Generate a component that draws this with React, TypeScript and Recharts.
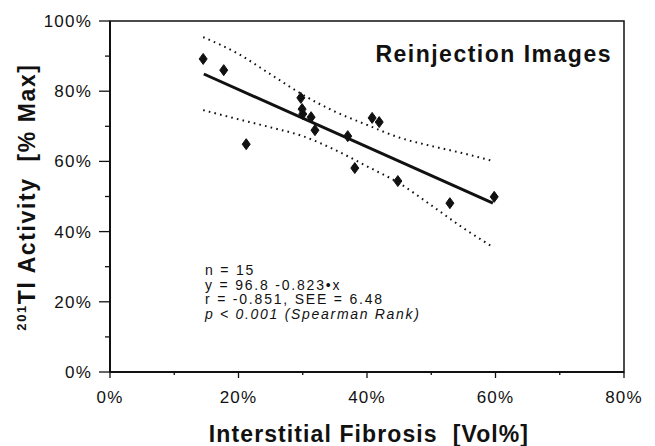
import React from 'react';
import { ComposedChart, Scatter, Line, XAxis, YAxis, ReferenceArea } from 'recharts';

// interstitial fibrosis [vol%] vs 201Tl activity [% max], one entry per patient
const fibrosis = [14.5, 17.7, 21.2, 29.7, 29.9, 30.0, 31.3, 31.9, 37.0, 40.8, 41.9, 38.1, 44.8, 52.9, 59.8];
const activity = [89.2, 86.0, 64.9, 78.1, 74.9, 73.5, 72.6, 68.9, 67.2, 72.4, 71.2, 58.1, 54.4, 48.1, 49.9];

// regression line ends
const fitX = [14.6, 59.6];
const fitY = [84.9, 48.1];

// dotted confidence bands
const bandX = [14.5, 20, 25, 30, 35, 40, 45, 50, 55, 59.6];
const upperY = [95.4, 90.6, 84.8, 79.0, 74.2, 70.4, 66.8, 64.4, 62.3, 60.1];
const lowerY = [74.6, 72.0, 69.7, 67.2, 63.3, 58.6, 53.8, 47.5, 41.0, 35.6];

const xTicks = [0, 10, 20, 30, 40, 50, 60, 70, 80];
const yTicks = [0, 10, 20, 30, 40, 50, 60, 70, 80, 90, 100];

const statLines = ['n = 15', 'y = 96.8 -0.823\u2022x', 'r = -0.851, SEE = 6.48'];

const FONT = '"Liberation Sans", Arial, Helvetica, sans-serif';
const INK = '#111';

const points = fibrosis.map((x, i) => ({ x, y: activity[i] }));
const fit = fitX.map((x, i) => ({ x, y: fitY[i] }));
const upper = bandX.map((x, i) => ({ x, y: upperY[i] }));
const lower = bandX.map((x, i) => ({ x, y: lowerY[i] }));

const Diamond = (props: any) => {
  const { cx, cy } = props;
  if (cx == null || cy == null) return <g />;
  return (
    <path
      d={`M${cx},${cy - 5.5} L${cx + 4},${cy} L${cx},${cy + 5.5} L${cx - 4},${cy} Z`}
      fill={INK}
      stroke={INK}
      strokeWidth={1}
      strokeLinejoin="round"
    />
  );
};

const YTick = (props: any) => {
  const { x, y, payload } = props;
  const major = payload.value % 20 === 0;
  return (
    <g>
      <line x1={x - (major ? 11 : 5)} x2={x} y1={y} y2={y} stroke={INK} strokeWidth={1.3} />
      {major && (
        <text x={x - 18} y={y + 6} textAnchor="end" fontSize={17} letterSpacing={1.2} fill={INK} fontFamily={FONT}>
          {payload.value}%
        </text>
      )}
    </g>
  );
};

const XTick = (props: any) => {
  const { x, y, payload } = props;
  const major = payload.value % 20 === 0;
  return (
    <g>
      <line x1={x} x2={x} y1={y} y2={y + (major ? 6 : 3)} stroke={INK} strokeWidth={1.3} />
      {major && (
        <text x={x} y={y + 31} textAnchor="middle" fontSize={17} letterSpacing={1.2} fill={INK} fontFamily={FONT}>
          {payload.value}%
        </text>
      )}
    </g>
  );
};

export default function App() {
  return (
    <div style={{ width: 655, height: 446, background: '#fff' }}>
      <style>{'body{margin:0}'}</style>
      <ComposedChart width={655} height={446} margin={{ top: 21, right: 31, bottom: 0, left: 0 }}>
        <XAxis
          type="number"
          dataKey="x"
          domain={[0, 80]}
          ticks={xTicks}
          height={74}
          tickSize={0}
          tickMargin={0}
          tickLine={false}
          tick={<XTick />}
          axisLine={{ stroke: INK, strokeWidth: 2 }}
          allowDataOverflow
        />
        <YAxis
          type="number"
          dataKey="y"
          domain={[0, 100]}
          ticks={yTicks}
          width={110}
          tickSize={0}
          tickMargin={0}
          tickLine={false}
          tick={<YTick />}
          axisLine={{ stroke: INK, strokeWidth: 2 }}
          allowDataOverflow
        />
        <ReferenceArea x1={0} x2={80} y1={0} y2={100} fill="none" stroke={INK} strokeWidth={1.5} />
        <Line
          data={upper}
          dataKey="y"
          type="monotone"
          stroke={INK}
          strokeWidth={2}
          strokeDasharray="1.6 4.2"
          dot={false}
          activeDot={false}
          isAnimationActive={false}
        />
        <Line
          data={lower}
          dataKey="y"
          type="monotone"
          stroke={INK}
          strokeWidth={2}
          strokeDasharray="1.6 4.2"
          dot={false}
          activeDot={false}
          isAnimationActive={false}
        />
        <Line
          data={fit}
          dataKey="y"
          type="linear"
          stroke={INK}
          strokeWidth={3}
          dot={false}
          activeDot={false}
          isAnimationActive={false}
        />
        <Scatter data={points} dataKey="y" shape={<Diamond />} isAnimationActive={false} />

        <text x={612} y={62} textAnchor="end" fontSize={23} fontWeight="bold" letterSpacing={1.5} fill={INK} fontFamily={FONT}>
          Reinjection Images
        </text>
        {statLines.map((s, i) => (
          <text key={s} x={205} y={275 + i * 14.5} fontSize={14} letterSpacing={1.8} fill={INK} fontFamily={FONT}>
            {s}
          </text>
        ))}
        <text x={205} y={318.5} fontSize={14} letterSpacing={1.7} fontStyle="italic" fill={INK} fontFamily={FONT}>
          p &lt; 0.001 (Spearman Rank)
        </text>
        <text x={369} y={442} textAnchor="middle" fontSize={23} fontWeight="bold" letterSpacing={1.1} fill={INK} fontFamily={FONT}>
          {'Interstitial Fibrosis\u00A0\u00A0[Vol%]'}
        </text>
        <text
          x={35}
          y={197}
          transform="rotate(-90, 35, 197)"
          textAnchor="middle"
          fontSize={23}
          fontWeight="bold"
          letterSpacing={1.6}
          fill={INK}
          fontFamily={FONT}
        >
          <tspan fontSize={13} dy={-9}>201</tspan>
          <tspan dy={9}>{'Tl Activity\u00A0\u00A0[% Max]'}</tspan>
        </text>
      </ComposedChart>
    </div>
  );
}
